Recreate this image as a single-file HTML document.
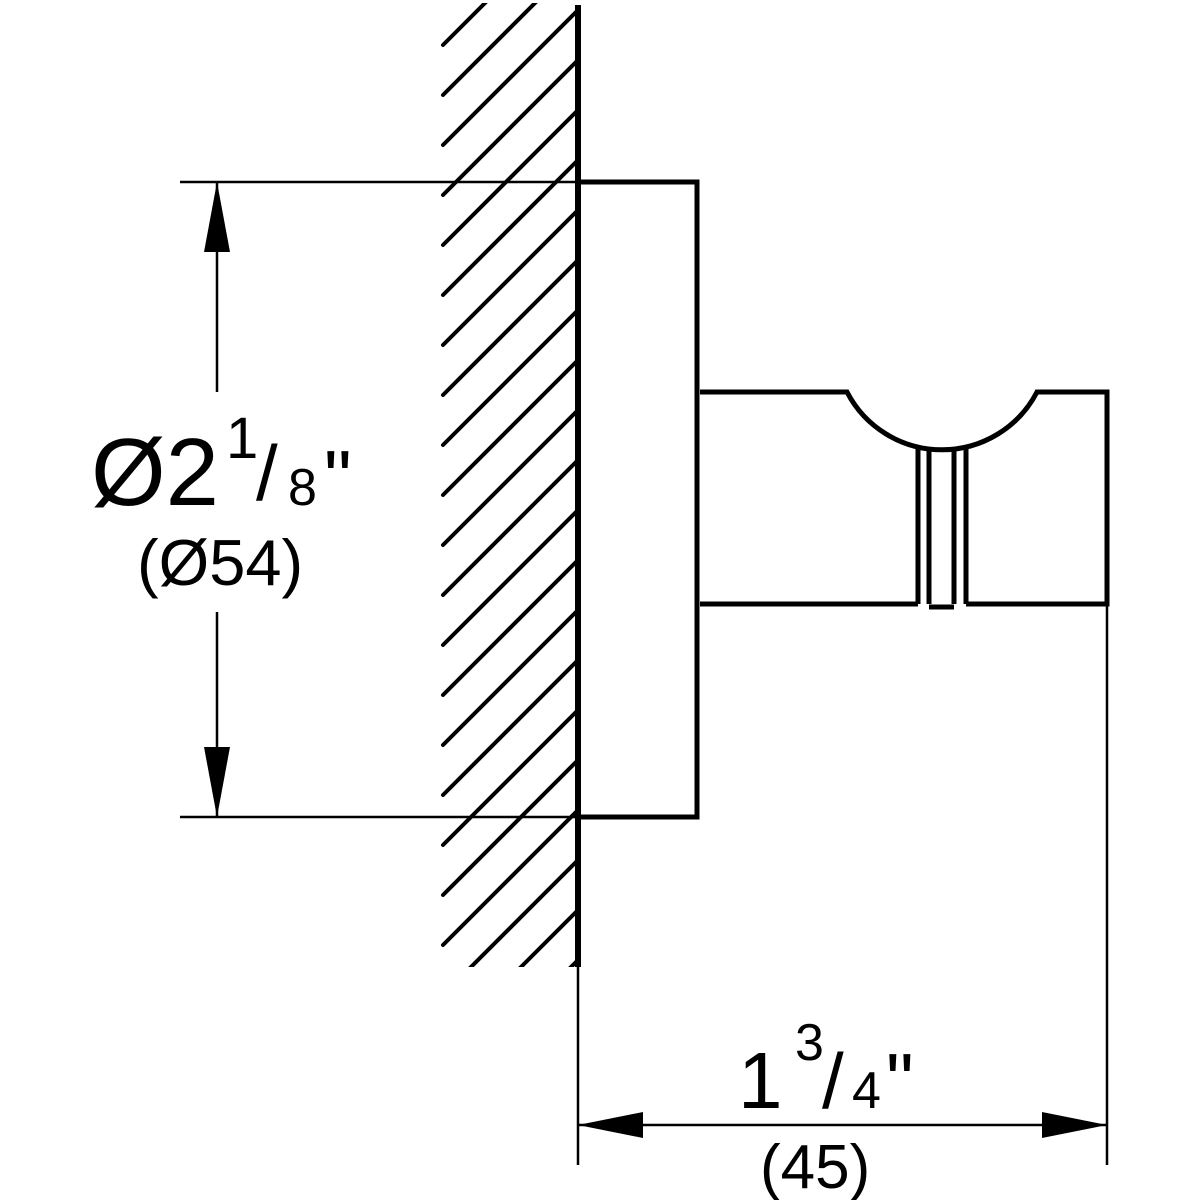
<!DOCTYPE html>
<html><head><meta charset="utf-8"><style>
html,body{margin:0;padding:0;background:#fff;}
svg{display:block;}
text{font-family:"Liberation Sans",Arial,sans-serif;fill:#000;}
</style></head><body>
<svg width="1200" height="1200" viewBox="0 0 1200 1200" xmlns="http://www.w3.org/2000/svg">
<defs><clipPath id="c"><rect x="440" y="3" width="138" height="964"/></clipPath></defs>
<g clip-path="url(#c)" stroke="#000" stroke-width="4" stroke-linecap="round">
<line x1="443" y1="45" x2="578" y2="-90"/><line x1="443" y1="95" x2="578" y2="-40"/>
<line x1="443" y1="145" x2="578" y2="10"/><line x1="443" y1="195" x2="578" y2="60"/>
<line x1="443" y1="245" x2="578" y2="110"/><line x1="443" y1="295" x2="578" y2="160"/>
<line x1="443" y1="345" x2="578" y2="210"/><line x1="443" y1="395" x2="578" y2="260"/>
<line x1="443" y1="445" x2="578" y2="310"/><line x1="443" y1="495" x2="578" y2="360"/>
<line x1="443" y1="545" x2="578" y2="410"/><line x1="443" y1="595" x2="578" y2="460"/>
<line x1="443" y1="645" x2="578" y2="510"/><line x1="443" y1="695" x2="578" y2="560"/>
<line x1="443" y1="745" x2="578" y2="610"/><line x1="443" y1="795" x2="578" y2="660"/>
<line x1="443" y1="845" x2="578" y2="710"/><line x1="443" y1="895" x2="578" y2="760"/>
<line x1="443" y1="945" x2="578" y2="810"/><line x1="443" y1="995" x2="578" y2="860"/>
<line x1="443" y1="1045" x2="578" y2="910"/><line x1="443" y1="1095" x2="578" y2="960"/>
</g>
<g stroke="#000" fill="none">
<line x1="578" y1="5" x2="578" y2="967" stroke-width="6"/>
<line x1="578" y1="960" x2="578" y2="1165" stroke-width="2.5"/>
<polyline points="578,182 697,182 697,817 578,817" stroke-width="5"/>
<line x1="180" y1="182" x2="578" y2="182" stroke-width="2.5"/>
<line x1="180" y1="817" x2="578" y2="817" stroke-width="2.5"/>
<line x1="217" y1="182" x2="217" y2="392" stroke-width="2.5"/>
<line x1="217" y1="612" x2="217" y2="817" stroke-width="2.5"/>
<path d="M700,392 H847 A107,107 0 0 0 1037,392 H1107 V604 H966 M954,604 V448 M966,604 V446 M918,604 V446 M929,604 V448 M918,604 H700" stroke-width="5"/>
<line x1="929" y1="607" x2="954" y2="607" stroke-width="5"/>
<line x1="1107" y1="600" x2="1107" y2="1165" stroke-width="2.5"/>
<line x1="578" y1="1125" x2="1107" y2="1125" stroke-width="2.5"/>
</g>
<g fill="#000">
<polygon points="217,182 204,252 230,252"/>
<polygon points="217,817 204,747 230,747"/>
<polygon points="578,1125 643,1112 643,1138"/>
<polygon points="1107,1125 1042,1112 1042,1138"/>
</g>
<text x="91" y="505" font-size="96">Ø2</text>
<text x="226" y="458" font-size="58">1</text>
<text x="256" y="500" font-size="78">/</text>
<text x="288" y="505" font-size="52">8</text>
<text x="324" y="505" font-size="78">"</text>
<text x="137" y="585" font-size="65">(Ø54)</text>
<text x="738" y="1108" font-size="80">1</text>
<text x="795" y="1060" font-size="52">3</text>
<text x="822" y="1108" font-size="78">/</text>
<text x="852" y="1108" font-size="52">4</text>
<text x="886" y="1108" font-size="78">"</text>
<text x="760" y="1188" font-size="62">(45)</text>
</svg>
</body></html>
